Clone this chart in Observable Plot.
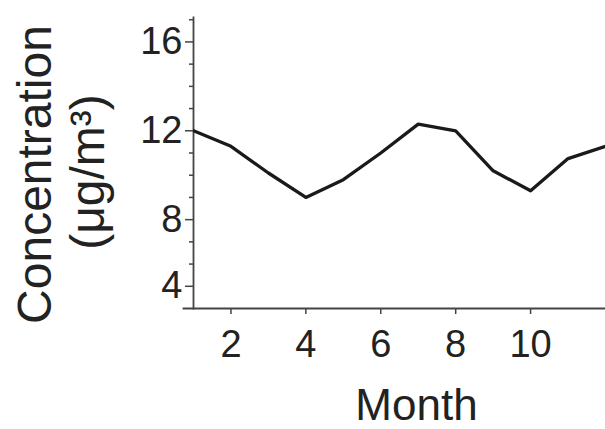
<!DOCTYPE html>
<html><head><meta charset="utf-8">
<script src="https://cdn.jsdelivr.net/npm/d3@7"></script>
<script src="https://cdn.jsdelivr.net/npm/@observablehq/plot@0.6"></script>
<style>body{margin:0;background:#fff;} #chart svg{display:block;}</style>
</head><body><div id="chart"></div>
<script>
const months = [1,2,3,4,5,6,7,8,9,10,11,12];
const concentration = [12.0,11.3,10.1,9.0,9.8,11.0,12.3,12.0,10.2,9.3,10.75,11.3];
const xTickValues = [2,4,6,8,10];
const yTickValues = [5,8,12,16];
const yTickLabels = ["4","8","12","16"];
const yMinorTicks = [6,7,9,10,11,13,14,15,17];
const xLabel = "Month";
const yLabelLine1 = "Concentration";
const yLabelLine2 = "(μg/m³)";

const data = months.map((m, i) => ({month: m, value: concentration[i]}));
const font = "'Liberation Sans', Arial, sans-serif";
const ink = "#222";

const chart = Plot.plot({
  width: 605,
  height: 429,
  marginLeft: 193,
  marginRight: 0,
  marginTop: 17,
  marginBottom: 121,
  style: {fontFamily: font, background: "#fff", color: ink},
  x: {domain: [1, 12]},
  y: {domain: [4, 17.1]},
  marks: [
    Plot.axisY(yTickValues, {tickSize: 8, tickPadding: 3, fontSize: 38, label: null,
      stroke: "#444", strokeWidth: 1.5, fill: ink,
      tickFormat: d => yTickLabels[yTickValues.indexOf(d)]}),
    Plot.axisY(yMinorTicks, {tickSize: 4, label: null, stroke: "#444", strokeWidth: 1.5, tickFormat: () => ""}),
    Plot.axisX(xTickValues, {tickSize: 6, tickPadding: 16, fontSize: 38, label: null,
      stroke: "#444", strokeWidth: 1.5, fill: ink}),
    Plot.frame({anchor: "left", stroke: "#444", strokeWidth: 1.8}),
    Plot.frame({anchor: "bottom", stroke: "#444", strokeWidth: 1.8, insetLeft: -10}),
    Plot.line(data, {x: "month", y: "value", stroke: "#1a1a1a", strokeWidth: 3.3, clip: true}),
    Plot.text([xLabel], {frameAnchor: "bottom", lineAnchor: "bottom", textAnchor: "middle",
      dx: 17, dy: 111, fontSize: 44, fill: ink}),
    Plot.text([yLabelLine1], {frameAnchor: "left", lineAnchor: "bottom", textAnchor: "middle", rotate: -90,
      dx: -143, dy: 11.5, fontSize: 48, fill: ink}),
    Plot.text([yLabelLine2], {frameAnchor: "left", lineAnchor: "bottom", textAnchor: "middle", rotate: -90,
      dx: -90, dy: 9, fontSize: 48, fill: ink})
  ]
});
document.getElementById("chart").append(chart);
</script>
</body></html>
